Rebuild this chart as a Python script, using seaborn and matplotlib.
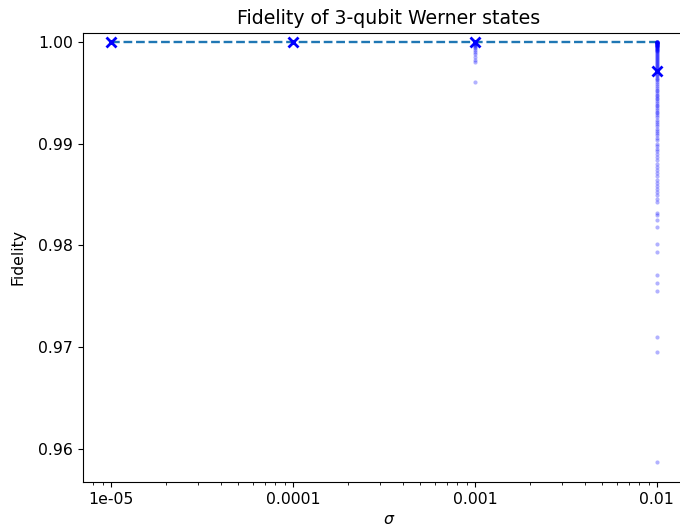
import numpy as np
import pandas as pd
import matplotlib
matplotlib.use("Agg")
import matplotlib.pyplot as plt
import matplotlib.ticker as mticker
import seaborn as sns

sigmas = [1e-05, 0.0001, 0.001, 0.01]
sigma_labels = ["1e-05", "0.0001", "0.001", "0.01"]

fid_1e5 = [1.0, 0.99999, 0.99998, 1.0, 0.99999, 1.0]
fid_1e4 = [1.0, 0.99998, 0.99996, 0.99999, 0.99995, 1.0]
fid_1e3 = [1.0, 0.99998, 0.99995, 0.99992, 0.9999, 0.99985, 0.9998, 0.99975,
           0.9997, 0.9996, 0.9995, 0.9994, 0.9992, 0.999, 0.9988, 0.9985,
           0.9982, 0.9980, 0.9960]
fid_1e2 = [0.99999, 0.99998, 0.99997, 0.99996, 0.99995, 0.99994, 0.99993, 0.99992,
           0.9999, 0.99989, 0.99988, 0.99986, 0.99985, 0.99983, 0.9998, 0.99978,
           0.99975, 0.99972, 0.9997, 0.99967, 0.99965, 0.99962, 0.9996, 0.99957,
           0.99955, 0.9995, 0.99945, 0.9994, 0.99935, 0.9993, 0.99925, 0.9992,
           0.99915, 0.9991, 0.99905, 0.999, 0.9989, 0.9988, 0.9987, 0.9986,
           0.9985, 0.9984, 0.9983, 0.9982, 0.9981, 0.998, 0.9979, 0.9978,
           0.9977, 0.9976, 0.9975, 0.9974, 0.9973, 0.9972, 0.9971, 0.997,
           0.9968, 0.9967, 0.9966, 0.9964, 0.9963, 0.9962, 0.996, 0.9958,
           0.9957, 0.9955, 0.9953, 0.9952, 0.995, 0.9948, 0.9947, 0.9945,
           0.9944, 0.9942, 0.994, 0.9938, 0.9937, 0.9935, 0.9933, 0.9931,
           0.993, 0.9928, 0.9926, 0.9923, 0.9921, 0.9919, 0.9917, 0.9914,
           0.9912, 0.991, 0.9908, 0.9905, 0.9903, 0.99, 0.9898, 0.9895,
           0.9893, 0.989, 0.9887, 0.9884, 0.988, 0.9877, 0.9874, 0.9871,
           0.9868, 0.9864, 0.9861, 0.9858, 0.9855, 0.9852, 0.9849, 0.9846,
           0.9843, 0.9832, 0.983, 0.9825, 0.9818, 0.9801, 0.9793, 0.9771,
           0.9763, 0.9755, 0.9710, 0.9695, 0.9587]
mean_fid = [1.0, 1.0, 0.99995, 0.99715]
ideal = [1.0, 1.0, 1.0, 1.0]

samples = pd.DataFrame({
    "sigma": [sigmas[0]] * len(fid_1e5) + [sigmas[1]] * len(fid_1e4)
             + [sigmas[2]] * len(fid_1e3) + [sigmas[3]] * len(fid_1e2),
    "fidelity": fid_1e5 + fid_1e4 + fid_1e3 + fid_1e2,
})

plt.rcParams["font.size"] = 11.3
fig = plt.figure(figsize=(6.8, 5.31), dpi=100)
# the source image is cropped on the right, so the axes runs off the canvas
ax = fig.add_axes([0.122, 0.0923, 0.9, 0.846])

sns.lineplot(x=sigmas, y=ideal, ax=ax, color="tab:blue", linestyle="--",
             linewidth=1.7, zorder=1)
sns.scatterplot(data=samples, x="sigma", y="fidelity", ax=ax, color="blue",
                alpha=0.3, s=9, linewidth=0, zorder=2)
ax.plot(sigmas, mean_fid, linestyle="none", marker="x", color="blue",
        markersize=7, markeredgewidth=2, zorder=3)

ax.set_xscale("log")
ax.set_xticks(sigmas)
ax.set_xticklabels(sigma_labels)
ax.xaxis.set_minor_formatter(mticker.NullFormatter())
ax.set_xlim(10 ** -5.154, 10 ** -1.791)
ax.set_ylim(0.95676, 1.00088)
ax.set_yticks([0.96, 0.97, 0.98, 0.99, 1.00])
ax.yaxis.set_major_formatter(mticker.FormatStrFormatter("%.2f"))

ax.set_title("Fidelity of 3-qubit Werner states", fontsize=13.6)
ax.set_xlabel(r"$\sigma$")
ax.set_ylabel("Fidelity", labelpad=9)

fig.savefig("out.png", dpi=100)
